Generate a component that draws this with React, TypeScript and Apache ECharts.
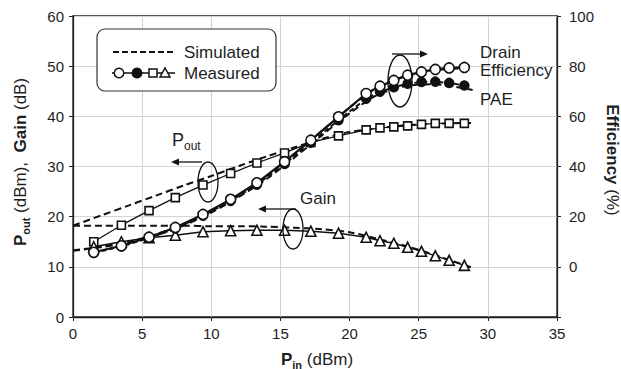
import React, { useEffect, useRef } from "react";
import * as echarts from "echarts";

// Measured data (Pin in dBm)
const pinMeas = [1.5, 3.5, 5.5, 7.4, 9.4, 11.4, 13.3, 15.3, 17.2, 19.2, 21.2, 22.2, 23.2, 24.2, 25.2, 26.2, 27.2, 28.3];
const poutMeas = [15.0, 18.3, 21.2, 23.8, 26.3, 28.6, 30.7, 32.7, 34.8, 36.1, 37.3, 37.7, 37.9, 38.1, 38.4, 38.6, 38.6, 38.6];
const gainMeas = [14.0, 15.0, 15.8, 16.3, 17.0, 17.2, 17.3, 17.3, 17.1, 16.7, 15.9, 15.2, 14.7, 13.9, 13.1, 12.2, 11.3, 10.3];
const deMeas = [5.8, 8.4, 11.8, 15.7, 20.9, 26.9, 33.5, 41.9, 50.5, 59.8, 69.1, 72.0, 74.3, 76.4, 77.7, 78.7, 79.3, 79.5];
const paeMeas = [5.6, 8.1, 11.5, 15.3, 20.4, 26.3, 32.8, 41.0, 49.5, 58.5, 67.0, 69.8, 71.6, 73.0, 73.7, 73.8, 73.3, 72.3];

// Simulated data
const pinSim = [0, 2, 4, 6, 8, 10, 12, 14, 16, 18, 20, 22, 24, 26, 28.9];
const poutSim = [18.2, 20.2, 22.2, 24.2, 26.2, 28.1, 30.1, 32.0, 33.8, 35.5, 36.9, 37.6, 38.2, 38.5, 38.7];
const gainSim = [18.2, 18.2, 18.2, 18.2, 18.2, 18.1, 18.1, 18.0, 17.8, 17.5, 16.9, 15.6, 14.2, 12.5, 9.8];
const deSim = [6.6, 8.0, 10.0, 13.0, 17.0, 22.3, 28.8, 36.2, 45.0, 54.2, 63.5, 71.5, 76.0, 78.3, 79.4];
const paeSim = [6.4, 7.8, 9.7, 12.6, 16.5, 21.6, 27.9, 35.0, 43.5, 52.4, 61.2, 68.5, 72.0, 72.8, 70.5];

// Axis ticks
const xTicks = { min: 0, max: 35, interval: 5 };
const yLeftTicks = { min: 0, max: 60, interval: 10 };
const yRightTicks = { min: -20, max: 100, interval: 20 };

const FONT = "'Liberation Sans', Arial, Helvetica, sans-serif";
const INK = "#111";
const TXT = "#1e1e1e";

const zip = (xs: number[], ys: number[]) => xs.map((x, i) => [x, ys[i]]);

export default function App() {
  const ref = useRef<HTMLDivElement>(null);
  useEffect(() => {
    if (!ref.current) return;
    const chart = echarts.init(ref.current, undefined, { renderer: "svg" });

    const simLine = (name: string, xs: number[], ys: number[], yAxisIndex: number) => ({
      name,
      type: "line",
      yAxisIndex,
      data: zip(xs, ys),
      symbol: "none",
      smooth: 0.3,
      lineStyle: { color: INK, width: 2, type: [7, 4] },
      z: 2,
    });
    const measLine = (
      name: string,
      ys: number[],
      yAxisIndex: number,
      symbol: string,
      size: number,
      fill: string,
      lw: number,
      ltype: any = "solid",
      z = 3
    ) => ({
      name,
      type: "line",
      yAxisIndex,
      data: zip(pinMeas, ys),
      symbol,
      symbolSize: size,
      showSymbol: true,
      itemStyle: { color: fill, borderColor: INK, borderWidth: 1.6 },
      lineStyle: { color: INK, width: lw, type: ltype },
      z,
    });

    const richAxis = {
      b: { fontFamily: FONT, fontSize: 17, fontWeight: "bold", fill: TXT, lineHeight: 22 },
      bs: { fontFamily: FONT, fontSize: 11, fontWeight: "bold", fill: TXT, lineHeight: 11, verticalAlign: "bottom" },
      n: { fontFamily: FONT, fontSize: 17, fill: TXT, lineHeight: 22 },
    };
    const richAnn = {
      n: { fontFamily: FONT, fontSize: 18, fill: TXT, lineHeight: 24 },
      s: { fontFamily: FONT, fontSize: 12, fill: TXT, lineHeight: 12, verticalAlign: "bottom" },
    };

    const stroke = { stroke: INK, lineWidth: 1.3, fill: "rgba(0,0,0,0)" };
    const annText = (text: string, x: number, y: number) => ({
      type: "text",
      x,
      y,
      silent: true,
      style: { text, fontFamily: FONT, fontSize: 17, fill: TXT, align: "left", verticalAlign: "middle" },
    });

    const option: any = {
      animation: false,
      backgroundColor: "#fff",
      grid: {
        left: 73,
        right: 64,
        top: 16,
        bottom: 52,
        show: true,
        borderColor: "#222",
        borderWidth: 1.3,
      },
      xAxis: {
        type: "value",
        ...xTicks,
        axisLine: { show: true, lineStyle: { color: "#222", width: 1.3 } },
        axisTick: { show: true, length: 4, lineStyle: { color: "#222" } },
        axisLabel: { fontSize: 15, color: TXT, fontFamily: FONT, margin: 9 },
        splitLine: { show: true, lineStyle: { color: "#d4d4d4", width: 1 } },
      },
      yAxis: [
        {
          type: "value",
          ...yLeftTicks,
          position: "left",
          axisLine: { show: true, lineStyle: { color: "#222", width: 1.3 } },
          axisTick: { show: true, length: 4, lineStyle: { color: "#222" } },
          axisLabel: { fontSize: 15, color: TXT, fontFamily: FONT, margin: 9 },
          splitLine: { show: true, lineStyle: { color: "#d4d4d4", width: 1 } },
        },
        {
          type: "value",
          ...yRightTicks,
          position: "right",
          axisLine: { show: true, lineStyle: { color: "#222", width: 1.3 } },
          axisTick: { show: true, length: 4, lineStyle: { color: "#222" } },
          axisLabel: {
            fontSize: 15,
            color: TXT,
            fontFamily: FONT,
            margin: 12,
            formatter: (v: number) => (v < 0 ? "" : String(v)),
          },
          splitLine: { show: false },
        },
      ],
      series: [
        simLine("Pout simulated", pinSim, poutSim, 0),
        simLine("Gain simulated", pinSim, gainSim, 0),
        simLine("DE simulated", pinSim, deSim, 1),
        simLine("PAE simulated", pinSim, paeSim, 1),
        measLine("Pout measured", poutMeas, 0, "rect", 8, "#fff", 1.3),
        measLine("Gain measured", gainMeas, 0, "triangle", 10, "#fff", 1.4),
        measLine("PAE measured", paeMeas, 1, "circle", 9, INK, 2, [5, 3], 4),
        measLine("DE measured", deMeas, 1, "circle", 10, "#fff", 2.2, "solid", 5),
      ],
      graphic: [
        // Legend box
        {
          type: "rect",
          silent: true,
          z: 100,
          shape: { x: 97, y: 29, width: 179, height: 62, r: 8 },
          style: { fill: "#fff", stroke: "#333", lineWidth: 1.2 },
        },
        {
          type: "line",
          silent: true,
          z: 101,
          shape: { x1: 113, y1: 52, x2: 175, y2: 52 },
          style: { stroke: INK, lineWidth: 2, lineDash: [6, 3] },
        },
        { ...annText("Simulated", 184, 52), z: 101 },
        {
          type: "line",
          silent: true,
          z: 101,
          shape: { x1: 112, y1: 73, x2: 175, y2: 73 },
          style: { stroke: INK, lineWidth: 1.5 },
        },
        { type: "circle", silent: true, z: 102, shape: { cx: 119, cy: 73, r: 4.8 }, style: { fill: "#fff", stroke: INK, lineWidth: 1.5 } },
        { type: "circle", silent: true, z: 102, shape: { cx: 137, cy: 73, r: 4.8 }, style: { fill: INK, stroke: INK, lineWidth: 1.5 } },
        { type: "rect", silent: true, z: 102, shape: { x: 149, y: 69, width: 8, height: 8 }, style: { fill: "#fff", stroke: INK, lineWidth: 1.5 } },
        {
          type: "polygon",
          silent: true,
          z: 102,
          shape: { points: [[165, 68], [170, 77], [160, 77]] },
          style: { fill: "#fff", stroke: INK, lineWidth: 1.5 },
        },
        { ...annText("Measured", 184, 73), z: 101 },

        // Pout annotation
        {
          type: "text",
          x: 172,
          y: 140,
          silent: true,
          z: 100,
          style: { text: "{n|P}{s|out}", rich: richAnn, align: "left", verticalAlign: "middle" },
        },
        { type: "line", silent: true, z: 100, shape: { x1: 177, y1: 162, x2: 202, y2: 162 }, style: { stroke: INK, lineWidth: 1.3 } },
        { type: "polygon", silent: true, z: 100, shape: { points: [[171, 162], [179, 158.5], [179, 165.5]] }, style: { fill: INK } },
        { type: "ellipse", silent: true, z: 100, shape: { cx: 208, cy: 182, rx: 10, ry: 20 }, style: stroke },

        // Gain annotation
        { ...annText("Gain", 300, 198), z: 100 },
        { type: "line", silent: true, z: 100, shape: { x1: 264, y1: 209, x2: 296, y2: 209 }, style: { stroke: INK, lineWidth: 1.3 } },
        { type: "polygon", silent: true, z: 100, shape: { points: [[258, 209], [266, 205.5], [266, 212.5]] }, style: { fill: INK } },
        { type: "ellipse", silent: true, z: 100, shape: { cx: 293, cy: 229, rx: 10, ry: 20 }, style: stroke },

        // Efficiency annotation
        { type: "line", silent: true, z: 100, shape: { x1: 392, y1: 54, x2: 422, y2: 54 }, style: { stroke: INK, lineWidth: 1.3 } },
        { type: "polygon", silent: true, z: 100, shape: { points: [[428, 54], [420, 50.5], [420, 57.5]] }, style: { fill: INK } },
        { type: "ellipse", silent: true, z: 100, shape: { cx: 400, cy: 81, rx: 12, ry: 26 }, style: stroke },
        { ...annText("Drain", 480, 52), z: 100 },
        { ...annText("Efficiency", 480, 70), z: 100 },
        { ...annText("PAE", 480, 99), z: 100 },

        // Axis titles
        {
          type: "text",
          x: 317,
          y: 359,
          silent: true,
          style: { text: "{b|P}{bs|in}{n| (dBm)}", rich: richAxis, align: "center", verticalAlign: "middle" },
        },
        {
          type: "text",
          x: 20,
          y: 162,
          rotation: Math.PI / 2,
          silent: true,
          style: {
            text: "{b|P}{bs|out}{n| (dBm),  }{b|Gain}{n| (dB)}",
            rich: richAxis,
            align: "center",
            verticalAlign: "middle",
          },
        },
        {
          type: "text",
          x: 612,
          y: 160,
          rotation: -Math.PI / 2,
          silent: true,
          style: { text: "{b|Efficiency}{n| (%)}", rich: richAxis, align: "center", verticalAlign: "middle" },
        },
      ],
    };

    chart.setOption(option);
    return () => chart.dispose();
  }, []);

  return <div ref={ref} style={{ width: 621, height: 369, position: "absolute", left: 0, top: 0 }} />;
}
